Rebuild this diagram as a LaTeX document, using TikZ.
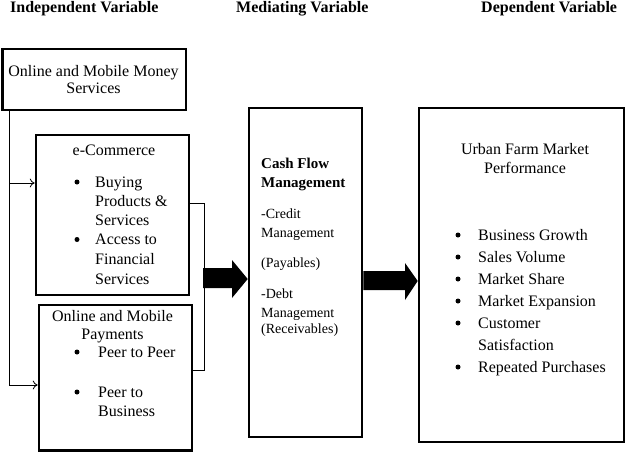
\documentclass[tikz,border=0pt]{standalone}
\usepackage{fontspec}
\setmainfont{Liberation Serif}
\usetikzlibrary{arrows.meta}
\begin{document}
\begin{tikzpicture}[x=1pt,y=-1pt,
  box/.style={draw, line width=2.6pt, inner sep=0pt},
  conn/.style={line width=0.8pt},
  arr/.style={conn, -{To[length=5pt,width=9pt]}},
  hdr/.style={anchor=base west, font=\fontsize{16}{18}\selectfont\bfseries, inner sep=0pt},
  txt/.style={anchor=base west, font=\fontsize{16}{18}\selectfont, inner sep=0pt},
  ctxt/.style={anchor=base, font=\fontsize{16}{18}\selectfont, inner sep=0pt},
  btxt/.style={anchor=base west, font=\fontsize{15}{18}\selectfont\bfseries, inner sep=0pt},
  stxt/.style={anchor=base west, font=\fontsize{14}{16}\selectfont, inner sep=0pt},
  dot/.style={circle, fill, inner sep=0pt, minimum size=5pt},
  fat/.style={fill=black}]
\useasboundingbox (0,0) rectangle (626,453);

% headers
\node[hdr] (h1) at (10,12.5) {Independent Variable};
\node[hdr] (h2) at (236,12.5) {Mediating Variable};
\node[hdr] (h3) at (481,12.5) {Dependent Variable};

% boxes
\node[box, minimum width=183.8pt, minimum height=61pt] (oms) at (94.2,79.5) {};
\node[box, minimum width=153pt, minimum height=160pt] (ecom) at (112.5,215) {};
\node[box, minimum width=153pt, minimum height=145.5pt] (pay) at (115.5,377.75) {};
\node[box, minimum width=113pt, minimum height=329pt] (cash) at (305.5,272.5) {};
\node[box, minimum width=205pt, minimum height=334pt] (urban) at (521.5,275) {};

% box 1 text
\node[ctxt] (oms1) at (93.5,76) {Online and Mobile Money};
\node[ctxt] (oms2) at (93.5,93) {Services};

% e-commerce text
\node[ctxt] (ec0) at (114,155) {e-Commerce};
\node[dot] (ecb1) at (77,182) {};
\node[txt] (ec1) at (95,187) {Buying};
\node[txt] (ec2) at (95,206) {Products \&};
\node[txt] (ec3) at (95,225.5) {Services};
\node[dot] (ecb2) at (77,239.5) {};
\node[txt] (ec4) at (95,244.5) {Access to};
\node[txt] (ec5) at (95,264) {Financial};
\node[txt] (ec6) at (95,284) {Services};

% payments text
\node[ctxt] (pt1) at (112.5,321) {Online and Mobile};
\node[ctxt] (pt2) at (112.5,339.5) {Payments};
\node[dot] (pb1) at (77,352) {};
\node[txt] (p1) at (98,357) {Peer to Peer};
\node[dot] (pb2) at (77,392) {};
\node[txt] (p2) at (98,397) {Peer to};
\node[txt] (p3) at (98,416) {Business};

% cash flow text
\node[btxt] (c1) at (261,168) {Cash Flow};
\node[btxt] (c2) at (261,187) {Management};
\node[stxt] (c3) at (261,218) {-Credit};
\node[stxt] (c4) at (261,237) {Management};
\node[stxt] (c5) at (261,267) {(Payables)};
\node[stxt] (c6) at (261,298) {-Debt};
\node[stxt] (c7) at (261,317) {Management};
\node[stxt] (c8) at (261,333) {(Receivables)};

% urban text
\node[ctxt] (u1) at (525,154) {Urban Farm Market};
\node[ctxt] (u2) at (525,173) {Performance};
\node[dot] (ub1) at (458,235) {};
\node[txt] (ut1) at (478,240) {Business Growth};
\node[dot] (ub2) at (458,257) {};
\node[txt] (ut2) at (478,262) {Sales Volume};
\node[dot] (ub3) at (458,279) {};
\node[txt] (ut3) at (478,284) {Market Share};
\node[dot] (ub4) at (458,301) {};
\node[txt] (ut4) at (478,306) {Market Expansion};
\node[dot] (ub5) at (458,323) {};
\node[txt] (ut5) at (478,328) {Customer};
\node[txt] (ut6) at (478,350) {Satisfaction};
\node[dot] (ub6) at (458,367) {};
\node[txt] (ut7) at (478,372) {Repeated Purchases};

% thin connectors
\coordinate (trunk) at (9,110);
\draw[arr] (trunk) |- (ecom.west |- 0,183);
\draw[arr] (trunk) |- (pay.west |- 0,385);
\coordinate (brk) at (204,370);
\draw[conn] (ecom.east |- 0,203) -| (brk) -- (pay.east |- 0,370);

% fat arrows
\fill[fat] (203,268) -- (232,268) -- (232,260) -- (cash.west |- 0,279)
  -- (232,298) -- (232,288) -- (203,288) -- cycle;
\fill[fat] (cash.east |- 0,271) -- (405,271) -- (405,263) -- (urban.west |- 0,281)
  -- (405,300) -- (405,290) -- (cash.east |- 0,290) -- cycle;
\end{tikzpicture}
\end{document}
